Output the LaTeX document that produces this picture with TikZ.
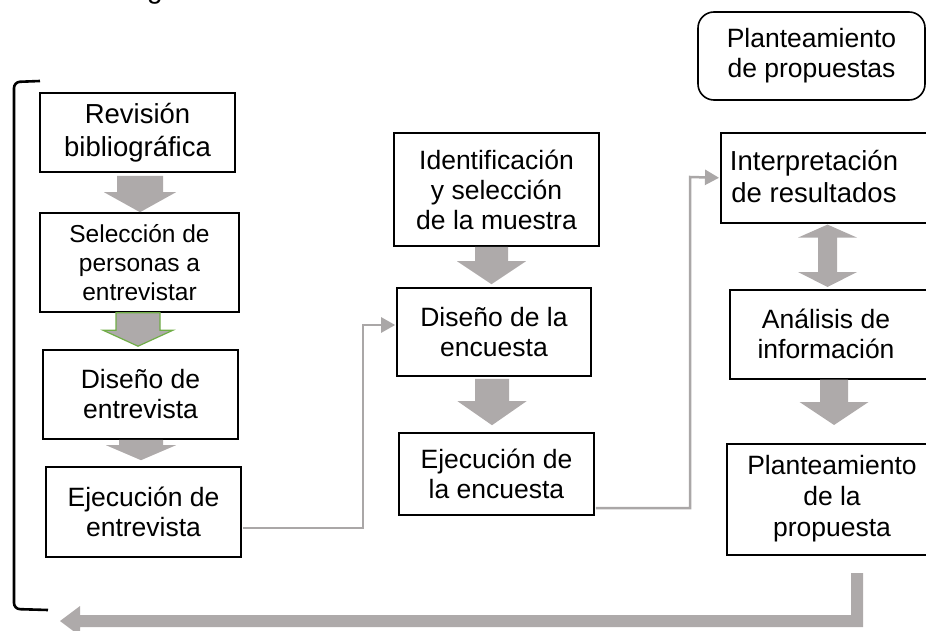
\documentclass[tikz,border=0pt]{standalone}
\usepackage{fontspec}
\setmainfont{Liberation Sans}
\usetikzlibrary{calc,arrows.meta}
\definecolor{arrgray}{RGB}{174,170,170}
\definecolor{lngray}{RGB}{170,167,167}
\definecolor{grn}{RGB}{112,173,71}
\tikzset{
  box/.style={draw=black, line width=1.6pt, align=center, inner sep=0pt,
    font=\fontsize{26.5}{30}\selectfont},
  boxtext/.style={align=center, inner sep=0pt, font=\fontsize{26.5}{30}\selectfont},
  blk/.style={fill=arrgray},
  conn/.style={draw=lngray, line width=2.5pt, -{Triangle[length=14pt,width=15pt]}},
  bracket/.style={draw=black, line width=2.6pt, rounded corners=6pt},
}
% #1 style, #2 from node, #3 to node, #4 centre x, #5 shaft half width,
% #6 head half width, #7 head length, #8 gap at top, #9 gap at tip
\newcommand\vArrow[9][blk]{%
  \path[#1] let \p1=(#2.south), \p2=(#3.north) in
    (#4pt-#5pt,\y1-#8pt) -- (#4pt+#5pt,\y1-#8pt) -- (#4pt+#5pt,\y2+#9pt+#7pt)
    -- (#4pt+#6pt,\y2+#9pt+#7pt) -- (#4pt,\y2+#9pt) -- (#4pt-#6pt,\y2+#9pt+#7pt)
    -- (#4pt-#5pt,\y2+#9pt+#7pt) -- cycle;}
\begin{document}
\begin{tikzpicture}[x=1pt,y=-1pt]
\useasboundingbox (0,0) rectangle (926,631);

% clipped fragment at the top
\node[font=\fontsize{28}{30}\selectfont, anchor=base, inner sep=0pt] (frag) at (155,-1) {g};

% left column
\node[box, minimum width=195pt, minimum height=79pt, font=\fontsize{27.5}{33}\selectfont] (b1) at (137.5,132.5) {Revisión\\bibliográfica};
\node[box, minimum width=199pt, minimum height=99pt, font=\fontsize{24.5}{29}\selectfont] (b2) at (139.5,262.5) {Selección de\\personas a\\entrevistar};
\node[box, minimum width=195pt, minimum height=89pt] (b3) at (140.5,394.5) {Diseño de\\entrevista};
\node[box, minimum width=195pt, minimum height=90pt] (b4) at (143.5,512) {Ejecución de\\entrevista};

% middle column
\node[box, minimum width=205pt, minimum height=113pt] (b6) at (496.5,189.5) {Identificación\\y selección\\de la muestra};
\node[box, minimum width=194pt, minimum height=88pt] (b5) at (494,332) {Diseño de la\\encuesta};
\node[box, minimum width=195pt, minimum height=82pt] (b7) at (496.5,474) {Ejecución de\\la encuesta};

% right column
\node[box, rounded corners=16pt, minimum width=227pt, minimum height=88pt] (top) at (811.5,56) {Planteamiento\\de propuestas};
\node[box, anchor=north west, minimum width=225pt, minimum height=90pt] (b8) at (720,132) {};
\node[boxtext, font=\fontsize{27.5}{32}\selectfont] (b8t) at (814,177) {Interpretación\\de resultados};
\node[box, anchor=north west, minimum width=225pt, minimum height=89pt] (b9) at (729,289) {};
\node[boxtext] (b9t) at (826,333.5) {Análisis de\\información};
\node[box, anchor=north west, minimum width=225pt, minimum height=111pt] (b10) at (726,443) {};
\node[boxtext, font=\fontsize{26.5}{31}\selectfont] (b10t) at (832,498.5) {Planteamiento\\de la\\propuesta};

% bracket
\draw[bracket] (40,81) -- (14,82) -- (14,609) -- (48,610);

% block arrows
\vArrow{b1}{b2}{140}{23}{36}{20}{3}{0}
\vArrow[blk,draw=grn,line width=1.2pt]{b2}{b3}{138}{22}{35}{16}{0}{3}
\vArrow{b3}{b4}{141}{22}{35}{15}{0}{6}
\vArrow{b6}{b5}{491.5}{16.5}{34.5}{23}{0}{3}
\vArrow{b5}{b7}{492}{17}{34.5}{24}{2}{7}
\vArrow{b9}{b10}{834}{14}{34.5}{23}{0}{18}
\path[blk] let \p1=(b8.south), \p2=(b9.north) in
  (827.5pt,\y1-1pt) -- (857pt,\y1-14pt) -- (837pt,\y1-14pt) -- (837pt,\y2+17pt)
  -- (857pt,\y2+17pt) -- (827.5pt,\y2+2pt) -- (798pt,\y2+17pt) -- (818pt,\y2+17pt)
  -- (818pt,\y1-14pt) -- (798pt,\y1-14pt) -- cycle;

% return arrow
\coordinate (ret) at (60,621);
\path[blk] (851,573) -- (863,573) -- (863,627) -- (80,627) -- (80,636)
  -- (ret) -- (80,606) -- (80,615) -- (851,615) -- cycle;

% thin connectors
\draw[conn] ($(b4.east)+(1,16)$) -| (363,325) -- ($(b5.west)+(-1,-7)$);
\draw[conn] ($(b7.east)+(1,34)$) -| (690,177) -- ($(b8.west)+(-1,0)$);
\end{tikzpicture}
\end{document}
